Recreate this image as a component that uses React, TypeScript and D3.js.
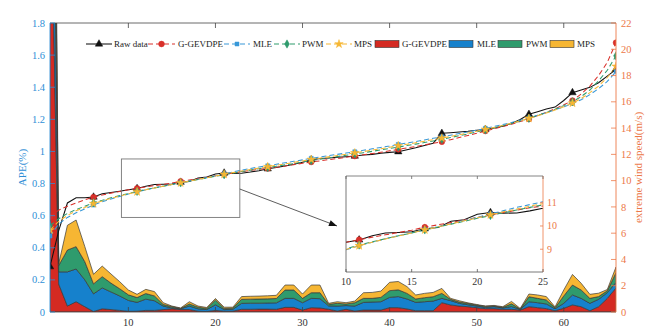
import React from 'react';
import * as d3 from 'd3';

// x index: 1..66
const index = d3.range(1, 67);
const markerIdx = [1, 6, 11, 16, 21, 26, 31, 36, 41, 46, 51, 56, 61, 66];
const xTicks = [10, 20, 30, 40, 50, 60];
const apeTicks = [0, 0.2, 0.4, 0.6, 0.8, 1, 1.2, 1.4, 1.6, 1.8];
const speedTicks = [0, 2, 4, 6, 8, 10, 12, 14, 16, 18, 20, 22];
const insetXTicks = [10, 15, 20, 25];
const insetYTicks = [9, 10, 11];

// extreme wind speed (m/s)
const rawData = [3.45, 6.2, 8.3, 8.7, 8.7, 8.75, 9.0, 9.1, 9.2, 9.3, 9.4, 9.58, 9.7, 9.72, 9.75, 9.88, 9.93, 10.2, 10.27, 10.5,
  10.58, 10.55, 10.56, 10.65, 10.76, 10.9, 11.0, 11.12, 11.25, 11.4, 11.58, 11.68, 11.72, 11.78, 11.82, 11.87, 11.95, 12.0, 12.08, 12.15,
  12.2, 12.35, 12.5, 12.68, 12.85, 13.6, 13.65, 13.7, 13.76, 13.84, 13.9, 14.0, 14.15, 14.35, 14.65, 15.05, 15.25, 15.45, 15.6, 16.1,
  16.7, 16.9, 17.1, 17.45, 17.95, 18.47];
const fitGevdpe = [7.25, 7.75, 8.05, 8.3, 8.55, 8.75, 8.9, 9.05, 9.18, 9.3, 9.41, 9.52, 9.62, 9.72, 9.82, 9.95, 10.05, 10.15, 10.26, 10.37,
  10.48, 10.58, 10.68, 10.78, 10.86, 10.93, 11.02, 11.12, 11.22, 11.32, 11.42, 11.5, 11.6, 11.68, 11.78, 11.87, 11.97, 12.06, 12.16, 12.27,
  12.38, 12.49, 12.6, 12.72, 12.84, 12.96, 13.12, 13.28, 13.44, 13.6, 13.78, 13.95, 14.12, 14.3, 14.5, 14.7, 14.95, 15.2, 15.47, 15.77,
  16.1, 16.6, 17.2, 18.0, 19.0, 20.5];
const fitMle = [5.78, 6.7, 7.2, 7.55, 7.85, 8.14, 8.4, 8.6, 8.8, 8.98, 9.15, 9.3, 9.45, 9.58, 9.71, 9.84, 9.97, 10.1, 10.23, 10.37,
  10.52, 10.66, 10.8, 10.92, 11.04, 11.13, 11.24, 11.36, 11.47, 11.58, 11.7, 11.8, 11.9, 12.0, 12.1, 12.2, 12.31, 12.42, 12.53, 12.64,
  12.76, 12.87, 12.98, 13.1, 13.22, 13.34, 13.46, 13.58, 13.7, 13.84, 13.98, 14.12, 14.27, 14.43, 14.6, 14.78, 14.97, 15.17, 15.39, 15.62,
  15.88, 16.15, 16.55, 17.0, 17.55, 18.3];
const fitPwm = [6.57, 7.1, 7.5, 7.8, 8.05, 8.32, 8.5, 8.7, 8.87, 9.02, 9.18, 9.32, 9.45, 9.58, 9.7, 9.83, 9.95, 10.08, 10.2, 10.33,
  10.45, 10.57, 10.69, 10.8, 10.91, 11.0, 11.1, 11.2, 11.3, 11.42, 11.53, 11.63, 11.73, 11.83, 11.93, 12.03, 12.13, 12.23, 12.34, 12.45,
  12.56, 12.67, 12.78, 12.9, 13.02, 13.14, 13.28, 13.42, 13.56, 13.71, 13.86, 14.02, 14.18, 14.35, 14.54, 14.74, 14.96, 15.19, 15.44, 15.71,
  16.0, 16.4, 16.9, 17.6, 18.4, 19.5];
const fitMps = [6.24, 6.9, 7.35, 7.7, 7.95, 8.25, 8.45, 8.65, 8.83, 8.99, 9.15, 9.3, 9.44, 9.57, 9.7, 9.83, 9.96, 10.09, 10.22, 10.35,
  10.48, 10.61, 10.73, 10.85, 10.96, 11.06, 11.17, 11.28, 11.39, 11.5, 11.61, 11.71, 11.81, 11.91, 12.01, 12.11, 12.21, 12.32, 12.43, 12.54,
  12.66, 12.77, 12.88, 13.0, 13.12, 13.24, 13.36, 13.49, 13.62, 13.76, 13.9, 14.05, 14.2, 14.37, 14.55, 14.74, 14.94, 15.15, 15.38, 15.63,
  15.9, 16.25, 16.7, 17.2, 17.85, 18.7];

// APE (%), stacked areas
const apeGevdpe = [3.0, 0.174, 0.037, 0.064, 0.033, 0.003, 0.02, 0.015, 0.01, 0.004, 0.005, 0.01, 0.01, 0.015, 0.02, 0.015, 0.015, 0.005, 0.003, 0.01,
  0.005, 0.005, 0.017, 0.017, 0.018, 0.018, 0.017, 0.029, 0.029, 0.012, 0.027, 0.025, 0.017, 0.006, 0.017, 0.006, 0.012, 0.012, 0.012, 0.027,
  0.027, 0.019, 0.008, 0.008, 0.008, 0.058, 0.044, 0.037, 0.033, 0.027, 0.021, 0.021, 0.017, 0.017, 0.012, 0.033, 0.027, 0.021, 0.008, 0.023,
  0.044, 0.033, 0.008, 0.033, 0.085, 0.15];
const apeMle = [1.5, 0.076, 0.213, 0.204, 0.167, 0.11, 0.13, 0.11, 0.09, 0.068, 0.055, 0.07, 0.06, 0.022, 0.005, 0.005, 0.022, 0.015, 0.012, 0.035,
  0.01, 0.012, 0.037, 0.038, 0.037, 0.038, 0.04, 0.056, 0.056, 0.046, 0.058, 0.058, 0.021, 0.031, 0.023, 0.031, 0.048, 0.05, 0.052, 0.064,
  0.069, 0.062, 0.052, 0.056, 0.06, 0.027, 0.027, 0.017, 0.012, 0.01, 0.008, 0.012, 0.008, 0.017, 0.004, 0.031, 0.031, 0.029, 0.012, 0.031,
  0.062, 0.052, 0.046, 0.046, 0.035, 0.035];
const apePwm = [1.5, 0.04, 0.136, 0.139, 0.113, 0.062, 0.07, 0.055, 0.045, 0.035, 0.03, 0.035, 0.03, 0.01, 0.008, 0.002, 0.013, 0.01, 0.007, 0.03,
  0.007, 0.007, 0.025, 0.025, 0.026, 0.026, 0.027, 0.052, 0.052, 0.027, 0.035, 0.037, 0.01, 0.017, 0.01, 0.021, 0.025, 0.023, 0.027, 0.042,
  0.042, 0.035, 0.021, 0.025, 0.027, 0.031, 0.008, 0.008, 0.008, 0.006, 0.006, 0.004, 0.004, 0.017, 0.002, 0.031, 0.027, 0.025, 0.006, 0.046,
  0.062, 0.052, 0.031, 0.017, 0.012, 0.06];
const apeMps = [1.0, 0.01, 0.154, 0.166, 0.094, 0.06, 0.066, 0.057, 0.044, 0.03, 0.02, 0.026, 0.027, 0.011, 0.004, 0.003, 0.014, 0.007, 0.006, 0.009,
  0.008, 0.006, 0.017, 0.018, 0.018, 0.019, 0.02, 0.031, 0.031, 0.027, 0.048, 0.048, 0.006, 0.01, 0.008, 0.01, 0.035, 0.037, 0.039, 0.052,
  0.052, 0.042, 0.025, 0.027, 0.027, 0.031, 0.006, 0.008, 0.004, 0.004, 0.002, 0.004, 0.004, 0.015, 0.004, 0.017, 0.021, 0.021, 0.006, 0.037,
  0.066, 0.042, 0.025, 0.021, 0.008, 0.035];

const BLUE_AX = '#2f8fd6';
const ORANGE_AX = '#ec7848';
const FONT = "'Liberation Serif', 'Times New Roman', serif";

const areaSeries = [
  { key: 'r', name: 'G-GEVDPE', color: '#d42a22', values: apeGevdpe },
  { key: 'b', name: 'MLE', color: '#1681cc', values: apeMle },
  { key: 'g', name: 'PWM', color: '#2f9b6d', values: apePwm },
  { key: 'y', name: 'MPS', color: '#f6b633', values: apeMps },
];

const lineSeries = [
  { name: 'Raw data', color: '#111111', values: rawData, dash: null, symbol: d3.symbolTriangle, size: 24 },
  { name: 'G-GEVDPE', color: '#d9302a', values: fitGevdpe, dash: '5,3', symbol: d3.symbolCircle, size: 26 },
  { name: 'MLE', color: '#3898d8', values: fitMle, dash: '5,3', symbol: d3.symbolSquare, size: 16 },
  { name: 'PWM', color: '#2f9b6d', values: fitPwm, dash: '5,3', symbol: d3.symbolDiamond, size: 20 },
  { name: 'MPS', color: '#f6b633', values: fitMps, dash: '5,3', symbol: d3.symbolStar, size: 22 },
];

const Marker = ({ symbol, size, color, cx, cy }) => (
  <path d={d3.symbol().type(symbol).size(size)() || ''} transform={`translate(${cx},${cy})`} fill={color} stroke={color} strokeWidth={0.5} />
);

export default function App() {
  const W = 658, H = 336;
  const L = 50, R = 616, T = 23, B = 312;

  const x = d3.scaleLinear().domain([1, 66]).range([L, R]);
  const yL = d3.scaleLinear().domain([0, 1.8]).range([B, T]);
  const yR = d3.scaleLinear().domain([0, 22]).range([B, T]);

  const rows = index.map((d, i) => {
    const o: any = { i: d };
    areaSeries.forEach(s => { o[s.key] = s.values[i]; });
    return o;
  });
  const stacked = d3.stack().keys(areaSeries.map(s => s.key))(rows);
  const area = d3.area<any>()
    .x(d => x(d.data.i))
    .y0(d => yL(d[0]))
    .y1(d => yL(d[1]));

  const line = (vals: number[], xs: any, ys: any) =>
    d3.line<number>().x((_, i) => xs(index[i])).y(v => ys(v))(vals) || '';

  // inset
  const IL = 346, IR = 543, IT = 176, IB = 272;
  const xi = d3.scaleLinear().domain([10, 25]).range([IL, IR]);
  const yi = d3.scaleLinear().domain([8.02, 12.15]).range([IB, IT]);

  // zoom box on main chart
  const box = { x0: 9.2, x1: 22.8, v0: 7.2, v1: 11.65 };
  const ax0 = x(box.x1), ay0 = yR(9.36);
  const ax1 = xi(10) - 9, ay1 = yi(10);
  const ang = Math.atan2(ay1 - ay0, ax1 - ax0);
  const ah = 8, aw = 3.2;
  const arrowHead = [
    [ax1, ay1],
    [ax1 - ah * Math.cos(ang) + aw * Math.sin(ang), ay1 - ah * Math.sin(ang) - aw * Math.cos(ang)],
    [ax1 - ah * Math.cos(ang) - aw * Math.sin(ang), ay1 - ah * Math.sin(ang) + aw * Math.cos(ang)],
  ].map(p => p.join(',')).join(' ');

  // legend layout
  const legY = 44;
  const lineLegend = [
    { x0: 86, x1: 112, tx: 114 },
    { x0: 148, x1: 175, tx: 178 },
    { x0: 224, x1: 250, tx: 253 },
    { x0: 274, x1: 300, tx: 302 },
    { x0: 326, x1: 352, tx: 354 },
  ];
  const patchLegend = [{ x0: 375, tx: 402 }, { x0: 449, tx: 477 }, { x0: 498, tx: 526 }, { x0: 550, tx: 577 }];

  return (
    <svg width={W} height={H} style={{ position: 'fixed', left: 0, top: 0, background: '#fff' }} fontFamily={FONT}>
      <defs>
        <clipPath id="plotClip"><rect x={L} y={T} width={R - L} height={B - T} /></clipPath>
        <clipPath id="insetClip"><rect x={IL} y={IT} width={IR - IL} height={IB - IT} /></clipPath>
      </defs>
      <rect x={0} y={0} width={W} height={H} fill="#fff" />

      {/* stacked APE areas */}
      <g clipPath="url(#plotClip)">
        {stacked.map((s, k) => (
          <path key={k} d={area(s as any) || ''} fill={areaSeries[k].color} stroke="#3a3a3a" strokeWidth={0.7} />
        ))}
      </g>

      {/* wind speed lines */}
      <g clipPath="url(#plotClip)">
        {lineSeries.map((s, k) => (
          <path key={k} d={line(s.values, x, yR)} fill="none" stroke={s.color} strokeWidth={1.05}
            strokeDasharray={s.dash || undefined} />
        ))}
        {lineSeries.map((s, k) => markerIdx.map(m => (
          <Marker key={`${k}-${m}`} symbol={s.symbol} size={s.size} color={s.color} cx={x(m)} cy={yR(s.values[m - 1])} />
        )))}
      </g>

      {/* zoom box and arrow */}
      <rect x={x(box.x0)} y={yR(box.v1)} width={x(box.x1) - x(box.x0)} height={yR(box.v0) - yR(box.v1)}
        fill="none" stroke="#777" strokeWidth={0.9} />
      <line x1={ax0} y1={ay0} x2={ax1} y2={ay1} stroke="#333" strokeWidth={0.8} />
      <polygon points={arrowHead} fill="#111" />

      {/* main axes */}
      <line x1={L} x2={R} y1={T} y2={T} stroke="#444" strokeWidth={0.8} />
      <line x1={L} x2={R} y1={B} y2={B} stroke="#444" strokeWidth={0.8} />
      {xTicks.map(t => (
        <g key={t}>
          <line x1={x(t)} x2={x(t)} y1={B} y2={B - 5} stroke="#444" strokeWidth={0.8} />
          <line x1={x(t)} x2={x(t)} y1={T} y2={T + 5} stroke="#444" strokeWidth={0.8} />
          <text x={x(t)} y={B + 14} fontSize={10.5} textAnchor="middle" fill="#333">{t}</text>
        </g>
      ))}
      <line x1={L} x2={L} y1={T} y2={B} stroke={BLUE_AX} strokeWidth={0.9} />
      {apeTicks.map(t => (
        <g key={t}>
          <line x1={L} x2={L + 5} y1={yL(t)} y2={yL(t)} stroke={BLUE_AX} strokeWidth={0.8} />
          <text x={L - 5} y={yL(t) + 3.6} fontSize={10.5} textAnchor="end" fill={BLUE_AX}>{t}</text>
        </g>
      ))}
      <text transform={`translate(26,${(T + B) / 2}) rotate(-90)`} fontSize={11} textAnchor="middle" fill={BLUE_AX}>APE(%)</text>
      <line x1={R} x2={R} y1={T} y2={B} stroke={ORANGE_AX} strokeWidth={0.9} />
      {speedTicks.map(t => (
        <g key={t}>
          <line x1={R} x2={R - 5} y1={yR(t)} y2={yR(t)} stroke={ORANGE_AX} strokeWidth={0.8} />
          <text x={R + 5} y={yR(t) + 3.6} fontSize={10.5} textAnchor="start" fill={ORANGE_AX}>{t}</text>
        </g>
      ))}
      <text transform={`translate(642,${(T + B) / 2}) rotate(-90)`} fontSize={11} textAnchor="middle" fill={ORANGE_AX}>extreme wind speed(m/s)</text>

      {/* inset */}
      <rect x={IL} y={IT} width={IR - IL} height={IB - IT} fill="#fff" />
      <g clipPath="url(#insetClip)">
        {lineSeries.map((s, k) => (
          <path key={k} d={line(s.values, xi, yi)} fill="none" stroke={s.color} strokeWidth={1.05}
            strokeDasharray={s.dash || undefined} />
        ))}
        {lineSeries.map((s, k) => markerIdx.map(m => (
          <Marker key={`i${k}-${m}`} symbol={s.symbol} size={s.size} color={s.color} cx={xi(m)} cy={yi(s.values[m - 1])} />
        )))}
      </g>
      <line x1={IL} x2={IR} y1={IT} y2={IT} stroke="#666" strokeWidth={0.8} />
      <line x1={IL} x2={IR} y1={IB} y2={IB} stroke="#555" strokeWidth={0.8} />
      <line x1={IL} x2={IL} y1={IT} y2={IB} stroke="#555" strokeWidth={0.8} />
      <line x1={IR} x2={IR} y1={IT} y2={IB} stroke={ORANGE_AX} strokeWidth={0.8} />
      {insetXTicks.map(t => (
        <g key={t}>
          <line x1={xi(t)} x2={xi(t)} y1={IB} y2={IB - 3} stroke="#555" strokeWidth={0.8} />
          <line x1={xi(t)} x2={xi(t)} y1={IT} y2={IT + 3} stroke="#666" strokeWidth={0.8} />
          <text x={xi(t)} y={IB + 13} fontSize={10} textAnchor="middle" fill="#333">{t}</text>
        </g>
      ))}
      {insetYTicks.map(t => (
        <g key={t}>
          <line x1={IR} x2={IR - 3} y1={yi(t)} y2={yi(t)} stroke={ORANGE_AX} strokeWidth={0.8} />
          <text x={IR + 4} y={yi(t) + 3.5} fontSize={10} textAnchor="start" fill={ORANGE_AX}>{t}</text>
        </g>
      ))}

      {/* legend */}
      {lineSeries.map((s, k) => {
        const p = lineLegend[k];
        return (
          <g key={k}>
            <line x1={p.x0} x2={p.x1} y1={legY} y2={legY} stroke={s.color} strokeWidth={1.05} strokeDasharray={s.dash || undefined} />
            <Marker symbol={s.symbol} size={s.size} color={s.color} cx={(p.x0 + p.x1) / 2} cy={legY} />
            <text x={p.tx} y={legY + 3.2} fontSize={9} fill="#222">{s.name}</text>
          </g>
        );
      })}
      {areaSeries.map((s, k) => {
        const p = patchLegend[k];
        return (
          <g key={k}>
            <rect x={p.x0} y={legY - 3.5} width={24} height={7} fill={s.color} stroke="#333" strokeWidth={0.6} />
            <text x={p.tx} y={legY + 3.2} fontSize={9} fill="#222">{s.name}</text>
          </g>
        );
      })}
    </svg>
  );
}
